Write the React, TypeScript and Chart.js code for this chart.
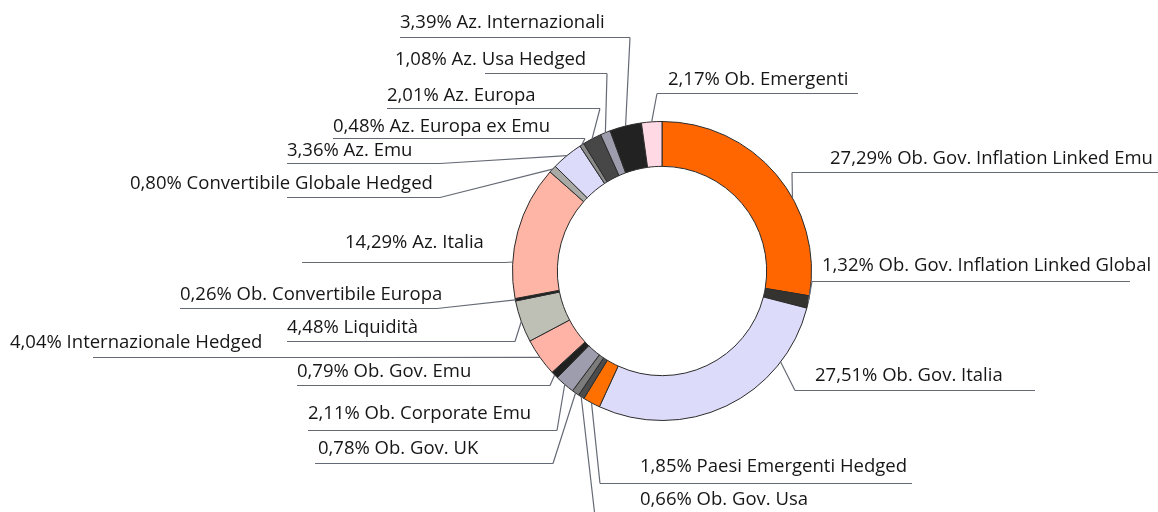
import { useEffect, useRef } from "react";
import { Chart, registerables } from "chart.js";

Chart.register(...registerables);

const categories = [
  "Ob. Gov. Inflation Linked Emu",
  "Ob. Gov. Inflation Linked Global",
  "Ob. Gov. Italia",
  "Paesi Emergenti Hedged",
  "Ob. Gov. Usa",
  "Ob. Gov. UK",
  "Ob. Corporate Emu",
  "Ob. Gov. Emu",
  "Internazionale Hedged",
  "Liquidità",
  "Ob. Convertibile Europa",
  "Az. Italia",
  "Convertibile Globale Hedged",
  "Az. Emu",
  "Az. Europa ex Emu",
  "Az. Europa",
  "Az. Usa Hedged",
  "Az. Internazionali",
  "Ob. Emergenti",
];

const shares = [
  27.29, 1.32, 27.51, 1.85, 0.66, 0.78, 2.11, 0.79, 4.04, 4.48, 0.26, 14.29,
  0.8, 3.36, 0.48, 2.01, 1.08, 3.39, 2.17,
];

const sliceColors = [
  "#ff6600",
  "#35332f",
  "#dcdcfa",
  "#ff7000",
  "#4c4c4c",
  "#7c7c7c",
  "#9d9dae",
  "#202020",
  "#ffb2a6",
  "#bec0b6",
  "#202020",
  "#ffb5a5",
  "#a9aaa6",
  "#dcdcfa",
  "#8a8a8a",
  "#474747",
  "#9d9dae",
  "#222222",
  "#ffd9e4",
];

// label layout: text position, underline, which end the leader leaves from, anchor fraction within slice
const labelLayout = [
  { tx: 830, ty: 159, ux1: 792, ux2: 1158, uy: 172, side: "r", f: 0.61 },
  { tx: 822, ty: 266, ux1: 812, ux2: 1130, uy: 281, side: "r", f: 0.5 },
  { tx: 815, ty: 376, ux1: 795, ux2: 1035, uy: 390, side: "r", f: 0.23 },
  { tx: 640, ty: 467, ux1: 600, ux2: 912, uy: 483, side: "r", f: 0.5 },
  { tx: 640, ty: 500, ux1: 595, ux2: 812, uy: 516, side: "r", f: 0.5 },
  { tx: 318, ty: 449, ux1: 315, ux2: 553, uy: 463, side: "l", f: 0.5 },
  { tx: 308, ty: 414, ux1: 308, ux2: 557, uy: 430, side: "l", f: 0.5 },
  { tx: 297, ty: 372, ux1: 297, ux2: 550, uy: 385, side: "l", f: 0.5 },
  { tx: 10, ty: 343, ux1: 93, ux2: 380, uy: 357, side: "l", f: 0.5 },
  { tx: 287, ty: 328, ux1: 287, ux2: 515, uy: 341, side: "l", f: 0.5 },
  { tx: 180, ty: 295, ux1: 180, ux2: 437, uy: 308, side: "l", f: 0.5 },
  { tx: 345, ty: 243, ux1: 302, ux2: 505, uy: 262, side: "l", f: 0.27 },
  { tx: 130, ty: 184, ux1: 287, ux2: 440, uy: 197, side: "l", f: 0.5 },
  { tx: 287, ty: 151, ux1: 287, ux2: 440, uy: 163, side: "l", f: 0.5 },
  { tx: 333, ty: 127, ux1: 333, ux2: 585, uy: 138, side: "l", f: 0.5 },
  { tx: 387, ty: 96, ux1: 387, ux2: 600, uy: 108, side: "l", f: 0.5 },
  { tx: 395, ty: 60, ux1: 485, ux2: 607, uy: 73, side: "l", f: 0.5 },
  { tx: 400, ty: 23, ux1: 400, ux2: 630, uy: 37, side: "l", f: 0.5 },
  { tx: 668, ty: 80, ux1: 657, ux2: 858, uy: 93, side: "r", f: 0.5 },
];

const fmt = (v: number) => v.toFixed(2).replace(".", ",") + "%";

const leaderPlugin = {
  id: "leaders",
  afterDraw(chart: any) {
    const ctx: CanvasRenderingContext2D = chart.ctx;
    const meta = chart.getDatasetMeta(0);
    ctx.save();
    ctx.font = '500 18.5px "Open Sans", sans-serif';
    ctx.textBaseline = "middle";
    ctx.textAlign = "left";
    meta.data.forEach((arc: any, i: number) => {
      const L = labelLayout[i];
      if (!L) return;
      const p = arc.getProps(["x", "y", "startAngle", "endAngle", "outerRadius"], true);
      const a = p.startAngle + (p.endAngle - p.startAngle) * L.f;
      const ax = p.x + Math.cos(a) * p.outerRadius;
      const ay = p.y + Math.sin(a) * p.outerRadius;
      const sx = L.side === "l" ? L.ux2 : L.ux1;
      ctx.strokeStyle = "#666a75";
      ctx.lineWidth = 1.2;
      ctx.beginPath();
      ctx.moveTo(L.ux1, L.uy + 0.5);
      ctx.lineTo(L.ux2, L.uy + 0.5);
      ctx.moveTo(sx, L.uy + 0.5);
      ctx.lineTo(ax, ay);
      ctx.stroke();
      ctx.fillStyle = "#161616";
      ctx.fillText(fmt(shares[i]) + " " + categories[i], L.tx, L.ty);
    });
    ctx.restore();
  },
};

export default function App() {
  const ref = useRef<HTMLCanvasElement | null>(null);
  useEffect(() => {
    document.body.style.margin = "0";
    const canvas = ref.current;
    if (!canvas) return;
    const chart = new Chart(canvas, {
      type: "doughnut",
      data: {
        labels: categories,
        datasets: [
          {
            data: shares,
            backgroundColor: sliceColors,
            borderColor: "#2b2b2b",
            borderWidth: 1,
          },
        ],
      },
      options: {
        responsive: false,
        animation: false,
        rotation: 0,
        radius: 149.5,
        cutout: "70%",
        layout: { padding: { left: 512, right: 346, top: 121, bottom: 91 } },
        plugins: {
          legend: { display: false },
          tooltip: { enabled: false },
        },
      },
      plugins: [leaderPlugin],
    });
    return () => chart.destroy();
  }, []);
  return (
    <div style={{ width: 1158, height: 512, background: "#ffffff" }}>
      <canvas ref={ref} width={1158} height={512} />
    </div>
  );
}
